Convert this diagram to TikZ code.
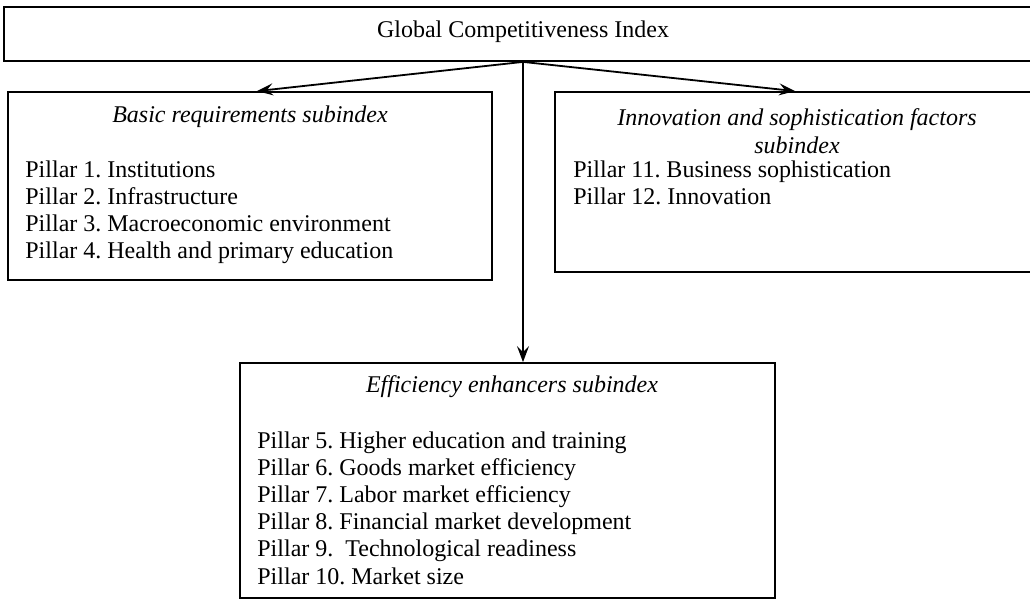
\documentclass[tikz,border=0pt]{standalone}
\usepackage{fontspec}
\setmainfont{Liberation Serif}
\usetikzlibrary{arrows.meta}
\frenchspacing

\tikzset{
  box/.style={draw, line width=0.9pt, inner sep=0pt},
  title/.style={font=\fontsize{12}{14}\itshape, inner sep=0pt, align=center},
  pillars/.style={font=\fontsize{12}{13.6}\selectfont, inner sep=0pt, align=left, anchor=north west},
  link/.style={line width=0.9pt, -{Stealth[length=8pt, width=6pt, inset=3pt]}}
}

\begin{document}
\begin{tikzpicture}[x=0.5pt, y=-0.5pt]
    % Page frame (pixel grid of the picture)
    \useasboundingbox[fill=white] (0,0) rectangle (1030,601);

    % Index box (runs off the right edge)
    \node[box, minimum width=519pt, minimum height=27pt] (gci) at (523,34) {};
    \node[font=\fontsize{12}{14}\selectfont, inner sep=0pt] (gcititle) at (523,32) {Global Competitiveness Index};

    % Subindex boxes
    \node[box, minimum width=242pt, minimum height=94pt] (basic) at (250,186) {};
    \node[box, minimum width=240pt, minimum height=90pt] (innov) at (795,182) {};
    \node[box, minimum width=267.5pt, minimum height=117.5pt] (effic) at (507.5,480.5) {};

    % Subindex titles
    \node[title] (basictitle) at (250,117) {Basic requirements subindex};
    \node[title] (innovtitle) at (797,131) {Innovation and sophistication factors\\subindex};
    \node[title] (effictitle) at (512,387) {Efficiency enhancers subindex};

    % Pillar lists
    \node[pillars] (basiclist) at (25,160) {Pillar 1. Institutions\\Pillar 2. Infrastructure\\Pillar 3. Macroeconomic environment\\Pillar 4. Health and primary education};
    \node[pillars] (innovlist) at (573,160) {Pillar 11. Business sophistication\\Pillar 12. Innovation};
    \node[pillars] (efficlist) at (257,431) {Pillar 5. Higher education and training\\Pillar 6. Goods market efficiency\\Pillar 7. Labor market efficiency\\Pillar 8. Financial market development\\Pillar 9.~ Technological readiness\\Pillar 10. Market size};

    % Arrows from the index
    \draw[link] (gci.south) -- ([xshift=3.5pt]basic.north);
    \draw[link] (gci.south) -- (innov.north);
    \draw[link] (gci.south) -- (gci.south |- effic.north);
\end{tikzpicture}
\end{document}
